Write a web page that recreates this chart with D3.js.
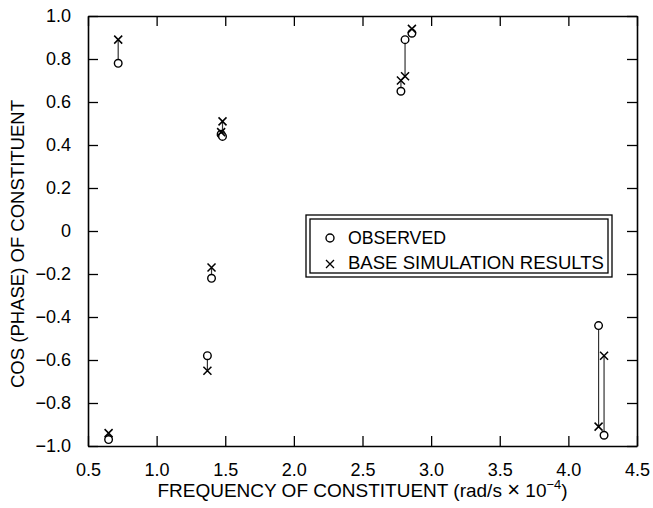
<!DOCTYPE html>
<html><head><meta charset="utf-8">
<script src="https://cdn.jsdelivr.net/npm/d3@7"></script>
<style>
body{margin:0;background:#fff;}
text{font-family:"Liberation Sans",Arial,sans-serif;fill:#000;}
</style></head>
<body><svg id="c" width="653" height="508"></svg>
<script>
const frequency = [0.65, 0.72, 1.37, 1.40, 1.47, 1.48, 2.78, 2.81, 2.86, 4.22, 4.26];
const observed  = [-0.97, 0.78, -0.58, -0.22, 0.45, 0.44, 0.65, 0.89, 0.92, -0.44, -0.95];
const simulated = [-0.94, 0.89, -0.65, -0.17, 0.46, 0.51, 0.70, 0.72, 0.94, -0.91, -0.58];
const xTicks = [0.5, 1.0, 1.5, 2.0, 2.5, 3.0, 3.5, 4.0, 4.5];
const yTicks = [-1.0, -0.8, -0.6, -0.4, -0.2, 0, 0.2, 0.4, 0.6, 0.8, 1.0];
const legendLabels = ["OBSERVED", "BASE SIMULATION RESULTS"];

const svg = d3.select("#c");
const m = {l:88, r:16, t:16, b:62};
const W = 653, H = 508;
const x = d3.scaleLinear().domain([0.5,4.5]).range([m.l, W-m.r]);
const y = d3.scaleLinear().domain([-1,1]).range([H-m.b, m.t]);
const fmtY = d => d===0 ? "0" : d3.format(".1f")(d).replace("-", "\u2212");
const fmtX = d3.format(".1f");
const tl = 10;

// axes
const gB = svg.append("g").attr("transform",`translate(0,${H-m.b})`)
  .call(d3.axisBottom(x).tickValues(xTicks).tickSizeInner(-tl).tickSizeOuter(0).tickPadding(tl+7).tickFormat(fmtX));
const gT = svg.append("g").attr("transform",`translate(0,${m.t})`)
  .call(d3.axisTop(x).tickValues(xTicks).tickSizeInner(-tl).tickSizeOuter(0).tickFormat(""));
const gL = svg.append("g").attr("transform",`translate(${m.l},0)`)
  .call(d3.axisLeft(y).tickValues(yTicks).tickSizeInner(-tl).tickSizeOuter(0).tickPadding(tl+7).tickFormat(fmtY));
const gR = svg.append("g").attr("transform",`translate(${W-m.r},0)`)
  .call(d3.axisRight(y).tickValues(yTicks).tickSizeInner(-tl).tickSizeOuter(0).tickFormat(""));
[gB,gT,gL,gR].forEach(g=>{
  g.select(".domain").attr("stroke","#000").attr("stroke-width",1.6);
  g.selectAll(".tick line").attr("stroke","#000").attr("stroke-width",1.3);
  g.selectAll(".tick text").attr("font-size",18).attr("font-family","Liberation Sans, Arial, sans-serif").attr("fill","#000");
});
gB.selectAll(".tick text").attr("dy","0.71em");

// axis titles
const xt = svg.append("text").attr("x",(m.l+W-m.r)/2).attr("y",497).attr("text-anchor","middle")
  .attr("font-size",19);
xt.append("tspan").text("FREQUENCY OF CONSTITUENT (rad/s ");
xt.append("tspan").attr("font-size",22).text("\u00D7");
xt.append("tspan").text(" 10");
xt.append("tspan").attr("font-size",13).attr("dy",-8).text("\u22124");
xt.append("tspan").attr("dy",8).text(")");

svg.append("text").attr("transform",`translate(24,${(m.t+H-m.b)/2+13}) rotate(-90)`)
  .attr("text-anchor","middle").attr("font-size",19)
  .attr("textLength",288).attr("lengthAdjust","spacingAndGlyphs")
  .text("COS (PHASE) OF CONSTITUENT");

// data
const data = frequency.map((f,i)=>({f, o:observed[i], s:simulated[i]}));
const g = svg.append("g");
g.selectAll("line.pair").data(data).join("line").attr("class","pair")
  .attr("x1",d=>x(d.f)).attr("x2",d=>x(d.f))
  .attr("y1",d=>y(d.o)).attr("y2",d=>y(d.s))
  .attr("stroke","#333").attr("stroke-width",1.2);
g.selectAll("circle.obs").data(data).join("circle").attr("class","obs")
  .attr("cx",d=>x(d.f)).attr("cy",d=>y(d.o)).attr("r",3.8)
  .attr("fill","#fff").attr("stroke","#000").attr("stroke-width",1.4);
const cr = 4;
g.selectAll("path.sim").data(data).join("path").attr("class","sim")
  .attr("d",d=>{const cx=x(d.f), cy=y(d.s);
    return `M${cx-cr},${cy-cr}L${cx+cr},${cy+cr}M${cx-cr},${cy+cr}L${cx+cr},${cy-cr}`;})
  .attr("stroke","#000").attr("stroke-width",1.5).attr("fill","none");

// legend
const lg = svg.append("g");
lg.append("rect").attr("x",306).attr("y",215).attr("width",306).attr("height",62)
  .attr("fill","#fff").attr("stroke","#000").attr("stroke-width",1.3);
lg.append("rect").attr("x",310).attr("y",219).attr("width",298).attr("height",54)
  .attr("fill","none").attr("stroke","#000").attr("stroke-width",1.3);
lg.append("circle").attr("cx",330).attr("cy",238).attr("r",4)
  .attr("fill","none").attr("stroke","#000").attr("stroke-width",1.4);
lg.append("path").attr("d","M326,260L334,268M326,268L334,260").attr("stroke","#000").attr("stroke-width",1.3);
lg.append("text").attr("x",348).attr("y",244).attr("font-size",18)
  .attr("textLength",98).attr("lengthAdjust","spacingAndGlyphs").text(legendLabels[0]);
lg.append("text").attr("x",348).attr("y",269).attr("font-size",18)
  .attr("textLength",256).attr("lengthAdjust","spacingAndGlyphs").text(legendLabels[1]);
</script></body></html>
